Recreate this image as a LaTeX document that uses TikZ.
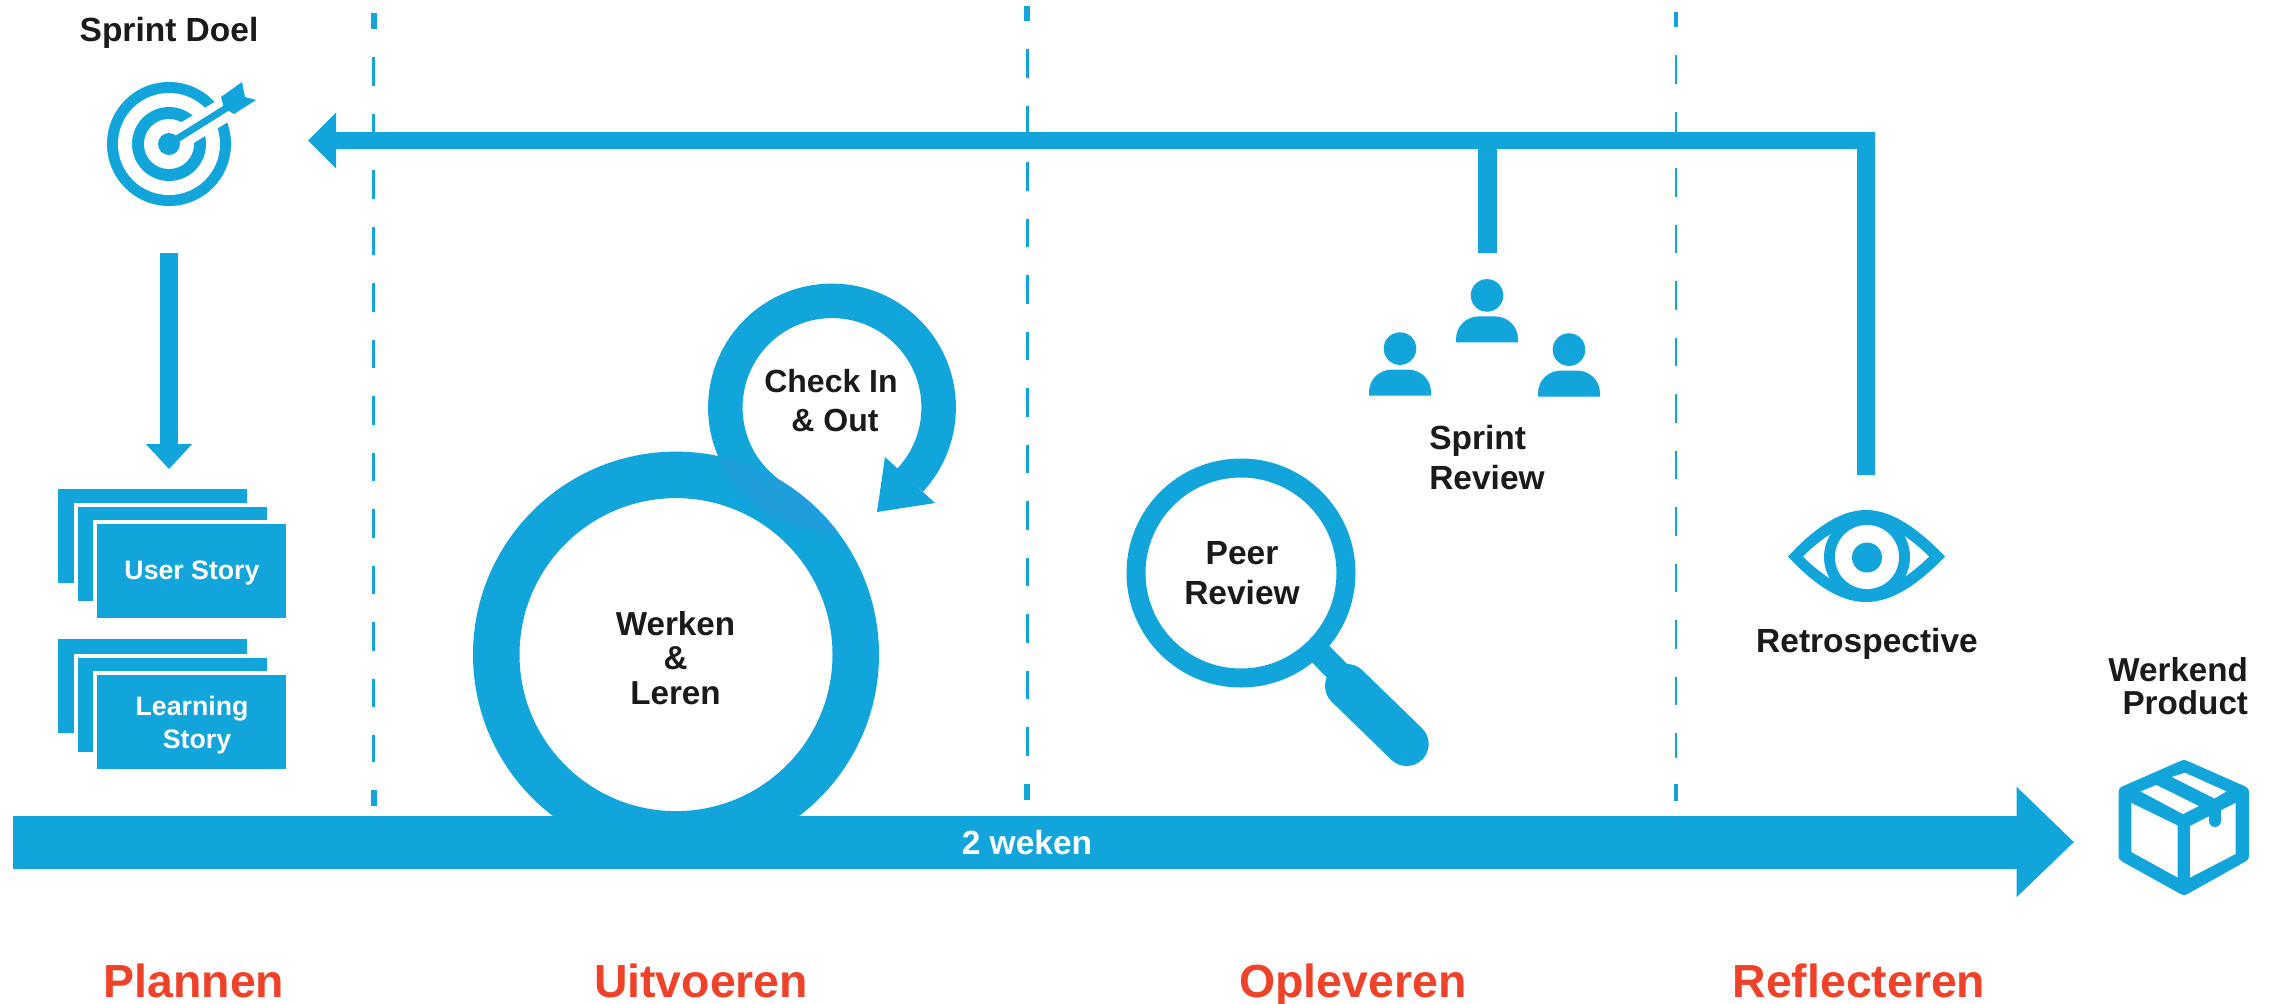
\documentclass[tikz,border=0pt]{standalone}
\usepackage{fontspec}
\setmainfont{Liberation Sans}
\usetikzlibrary{arrows.meta}
\definecolor{sblue}{HTML}{12A5DB}
\definecolor{sblue2}{HTML}{1E9FDC}
\definecolor{sred}{HTML}{F04129}
\definecolor{sink}{HTML}{1A1A1A}
\newcommand{\personicon}[2]{%
  \begin{scope}[shift={(#1,#2)}]
    \fill[sblue] (0,0) circle[radius=16.3];
    \fill[sblue] (-31,47) -- (-31,44) .. controls (-31,30) and (-20,21) .. (-8,21) -- (8,21) .. controls (20,21) and (31,30) .. (31,44) -- (31,47) -- cycle;
  \end{scope}}
\tikzset{
  lab/.style={font=\bfseries\fontsize{16.75}{#1}\selectfont,text=sink,inner sep=0pt,anchor=base},
  lab/.default=20,
  phase/.style={font=\bfseries\fontsize{23.2}{27}\selectfont,text=sred,inner sep=0pt,anchor=base},
  cardtext/.style={font=\bfseries\fontsize{13.35}{#1}\selectfont,text=white,inner sep=0pt,anchor=base},
  cardtext/.default=16.25,
  card/.style={draw=white,fill=sblue,line width=2pt,minimum width=96.5pt,minimum height=49pt,inner sep=0pt,outer sep=0pt},
  thindash/.style={draw=sblue,line width=1.25pt,dash pattern=on 14.25pt off 14pt},
  thickdash/.style={draw=sblue,line width=#1},
  flow/.style={draw=sblue,line width=8.75pt,line join=miter},
}
\begin{document}
\begin{tikzpicture}[x=0.5pt,y=-0.5pt]
\fill[white] (0,0) rectangle (2277,1003);
\useasboundingbox (0,0) rectangle (2277,1003);

% dashed phase separators
\coordinate (d1a) at (373.5,57);   \coordinate (d1b) at (373.5,762);
\coordinate (d2a) at (1027.3,49);  \coordinate (d2b) at (1027.3,757);
\coordinate (d3a) at (1676,55);    \coordinate (d3b) at (1676,758);
\draw[thindash] (d1a) -- (d1b);
\draw[thindash] (d2a) -- (d2b);
\draw[thindash] (d3a) -- (d3b);
\draw[thickdash=3pt] (373.5,13) -- (373.5,29);
\draw[thickdash=3pt] (373.5,790) -- (373.5,806);
\draw[thickdash=3pt] (1027.3,6) -- (1027.3,21);
\draw[thickdash=3pt] (1027.3,784) -- (1027.3,800);
\draw[thickdash=2.25pt] (1676,12) -- (1676,27);
\draw[thickdash=2.25pt] (1676,784) -- (1676,801);

% feedback arrows
\coordinate (goalIn) at (308,140.5);
\coordinate (retroOut) at (1866,474.7);
\coordinate (reviewOut) at (1487,252.5);
\coordinate (reviewJoin) at (1487,140.5);
\draw[flow,-{Triangle[length=14pt,width=27pt]}] (retroOut) |- (goalIn);
\draw[flow,line width=9.5pt] (reviewOut) -- (reviewJoin);

% target icon
\coordinate (goalC) at (169,144);
\fill[sblue] (goalC) circle[radius=62];
\fill[white] (goalC) circle[radius=51];
\fill[sblue] (goalC) circle[radius=37];
\fill[white] (goalC) circle[radius=25];
\draw[white,line width=12pt] (goalC) -- (240,100.5);
\fill[sblue] (goalC) circle[radius=11];
\draw[sblue,line width=3.5pt] (goalC) -- (228,107);
\fill[sblue] (221,97) -- (242,82) -- (245,97) -- (256,100) -- (234,114) -- (224,108) -- cycle;
\node[lab] (doel) at (169,41.7) {Sprint Doel};

% goal to stories
\coordinate (goalOut) at (169,253);
\coordinate (storyIn) at (169,469);
\draw[flow,-{Triangle[length=12.5pt,width=22.5pt]}] (goalOut) -- (storyIn);

% user story stack
\node[card] (us1) at (152.5,535.5) {};
\node[card] (us2) at (172,554) {};
\node[card] (us3) at (191.5,571) {};
\node[cardtext] (ustext) at (192,579) {User Story};
% learning story stack
\node[card] (ls1) at (152.5,686) {};
\node[card] (ls2) at (172,705) {};
\node[card] (ls3) at (191.5,721.5) {};
\node[cardtext,align=center] (lstext) at (192,748) {Learning\\\hspace*{5pt}Story};

% big ring and check in loop
\draw[sblue,line width=23.25pt] (676,654.6) circle[radius=179.75];
\draw[sblue,line width=17.25pt] plot[domain=232:-43,samples=80] ({832+106.7*cos(\x)},{407.5-106.7*sin(\x)});
\fill[sblue] (768.7,470.8) -- (832,528) -- (815,545) -- (760,500) -- cycle;
\fill[sblue] (885,457) -- (897,468) -- (923,492) -- (935,503) -- (877,512) -- cycle;
\begin{scope}
  \clip (676,654.6) circle[radius=203];
  \fill[sblue2] (832,407.5) circle[radius=124];
\end{scope}
\node[lab=39.4,font=\bfseries\fontsize{16}{19.7}\selectfont,align=center] (check) at (831,431.4) {Check In\\\hspace*{4pt}\& Out};
\node[lab,font=\bfseries\fontsize{16.6}{17.25}\selectfont,align=center] (werken) at (675.5,704) {Werken\\\&\\Leren};

% magnifier
\draw[sblue,line width=9.5pt] (1241,573) circle[radius=105];
\coordinate (neckA) at (1314.7,648);
\coordinate (neckB) at (1350,684);
\coordinate (handleA) at (1347,686);
\coordinate (handleB) at (1406.7,744);
\draw[sblue,line width=12pt] (neckA) -- (neckB);
\draw[sblue,line width=22pt,line cap=round] (handleA) -- (handleB);
\node[lab,align=center] (peer) at (1242,604) {Peer\\Review};

% people
\personicon{1487}{295.4}
\personicon{1400}{348.6}
\personicon{1569}{349.6}
\node[lab,align=left] (review) at (1487,489) {Sprint\\Review};

% eye
\begin{scope}
  \clip (1788,556.5) .. controls (1820,522) and (1845,510) .. (1866,510) .. controls (1887,510) and (1912,522) .. (1945,556.5) .. controls (1912,591) and (1887,602) .. (1866,602) .. controls (1845,602) and (1820,591) .. (1788,556.5) -- cycle;
  \fill[sblue] (1780,500) rectangle (1950,610);
  \fill[white] (1803,556.5) .. controls (1825,535) and (1845,523) .. (1866,523) .. controls (1887,523) and (1907,535) .. (1929,556.5) .. controls (1907,578) and (1887,590) .. (1866,590) .. controls (1845,590) and (1825,578) .. (1803,556.5) -- cycle;
  \fill[sblue] (1867,557) circle[radius=43];
\end{scope}
\fill[white] (1867,557) circle[radius=32];
\fill[sblue] (1867,557.5) circle[radius=15];
\node[lab] (retro) at (1867,652) {Retrospective};

% timeline
\coordinate (barA) at (13,842);
\coordinate (barB) at (2074,842);
\draw[sblue,line width=26.5pt,-{Triangle[length=28.75pt,width=53.5pt]}] (barA) -- (barB);
\node[lab,text=white] (weken) at (1027,854) {2 weken};

% box
\draw[sblue,fill=sblue,line width=6pt,line join=round] (2184,766) -- (2243,792) -- (2243,856) -- (2184,889) -- (2124.5,856) -- (2124.5,792) -- cycle;
\fill[white] (2131.4,803) -- (2177.7,825.6) -- (2177.7,877.5) -- (2131.4,852) -- cycle;
\fill[white] (2190,826) -- (2235.5,803) -- (2235.5,854) -- (2190,877.5) -- cycle;
\fill[white] (2140.6,791.4) -- (2156.4,785) -- (2198.7,806) -- (2183,814) -- cycle;
\fill[white] (2172,777) -- (2185,772.8) -- (2226.3,791.4) -- (2214.5,798.5) -- cycle;
\draw[sblue,line width=6pt,line cap=round] (2215,806) -- (2215,821);
\node[lab=16.75,font=\bfseries\fontsize{16.6}{16.75}\selectfont,align=right,anchor=base east] (product) at (2248.4,714.5) {Werkend\\Product};

% phases
\node[phase] (plannen) at (194,997) {Plannen};
\node[phase] (uitvoeren) at (701,997) {Uitvoeren};
\node[phase] (opleveren) at (1353,997) {Opleveren};
\node[phase] (reflecteren) at (1859,997) {Reflecteren};
\end{tikzpicture}
\end{document}
